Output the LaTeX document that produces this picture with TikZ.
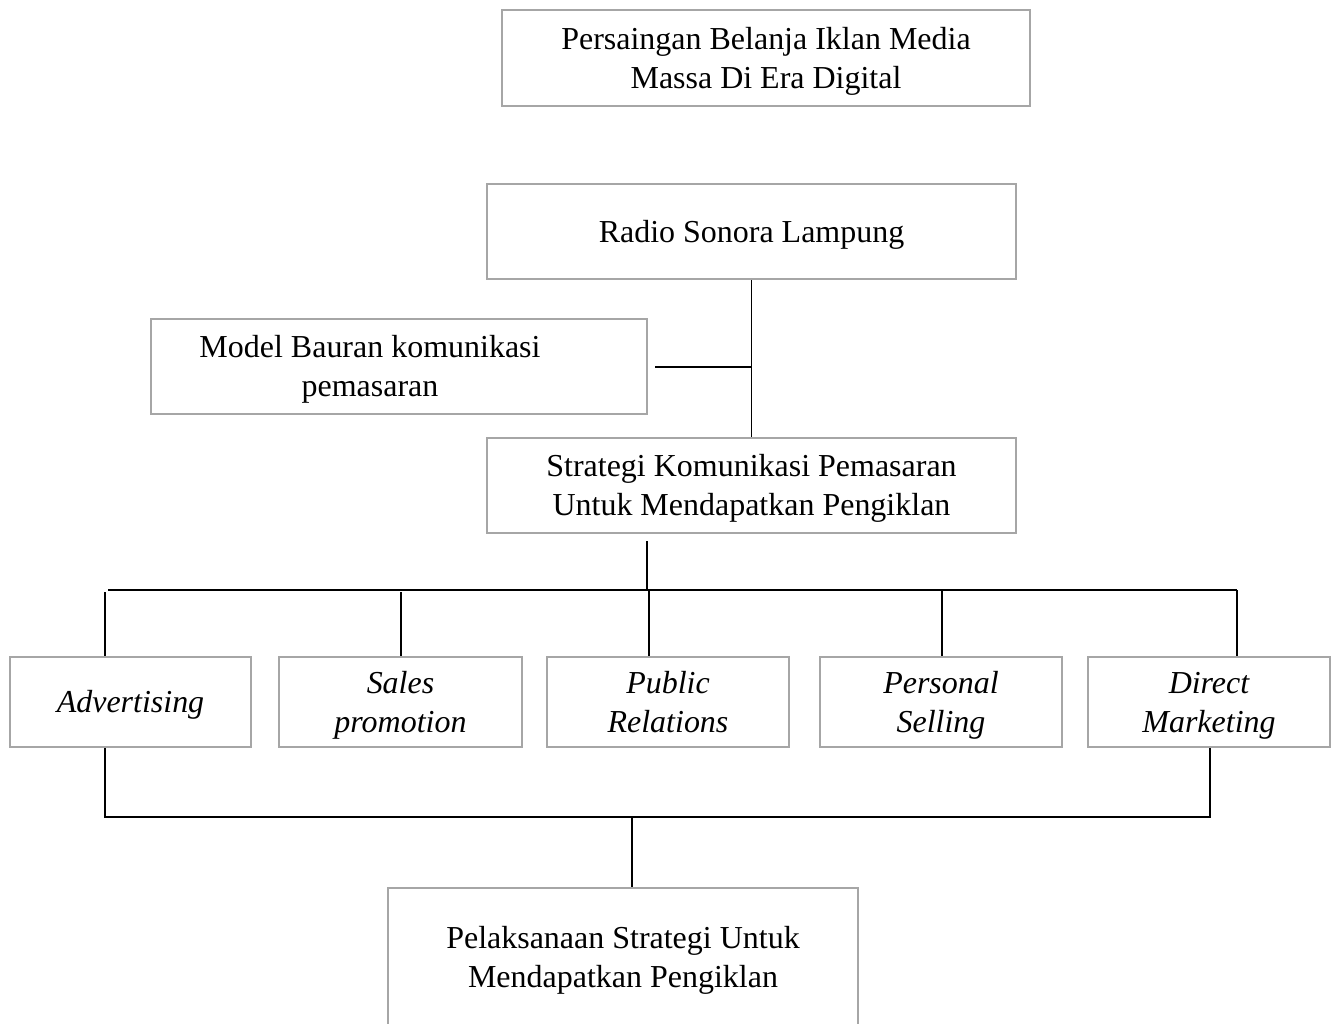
\documentclass[tikz,border=0pt]{standalone}
\usepackage{fontspec}
\setmainfont{Liberation Serif}
\newcommand\boxtop{\rule{0pt}{17pt}}
\newcommand\boxbot{\rule[-5pt]{0pt}{5pt}}
\begin{document}
\begin{tikzpicture}[x=0.02cm,y=-0.02cm,
  box/.style={draw=black!35,line width=1.6pt,align=center,inner sep=0pt,
    font=\fontsize{18.2}{22.2}\selectfont},
  link/.style={draw=black,line width=0.8pt}]

  \useasboundingbox (0,0) rectangle (1335,1024);

  \node[box,minimum width=528*0.02cm,minimum height=96*0.02cm] (top) at (766,58)
    {\boxtop Persaingan Belanja Iklan Media\\Massa Di Era Digital\boxbot};
  \node[box,minimum width=529*0.02cm,minimum height=95*0.02cm] (radio) at (751.5,231.5)
    {\boxtop Radio Sonora Lampung\boxbot};
  \node[box,minimum width=496*0.02cm,minimum height=95*0.02cm] (model) at (399,366.5)
    {\hspace*{-33pt}\boxtop Model Bauran komunikasi\\\hspace*{-33pt}pemasaran\boxbot};
  \node[box,minimum width=529*0.02cm,minimum height=95*0.02cm] (strat) at (751.5,485.5)
    {\boxtop Strategi Komunikasi Pemasaran\\Untuk Mendapatkan Pengiklan\boxbot};

  \node[box,minimum width=241*0.02cm,minimum height=90*0.02cm] (adv) at (130.5,702)
    {\boxtop\itshape Advertising\boxbot};
  \node[box,minimum width=243*0.02cm,minimum height=90*0.02cm] (sp) at (400.5,702)
    {\boxtop\itshape Sales\\\itshape promotion\boxbot};
  \node[box,minimum width=242*0.02cm,minimum height=90*0.02cm] (pr) at (668,702)
    {\boxtop\itshape Public\\\itshape Relations\boxbot};
  \node[box,minimum width=242*0.02cm,minimum height=90*0.02cm] (ps) at (941,702)
    {\boxtop\itshape Personal\\\itshape Selling\boxbot};
  \node[box,minimum width=242*0.02cm,minimum height=90*0.02cm] (dm) at (1209,702)
    {\boxtop\itshape Direct\\\itshape Marketing\boxbot};

  \node[box,minimum width=470*0.02cm,minimum height=138*0.02cm] (impl) at (623,957)
    {\boxtop Pelaksanaan Strategi Untuk\\Mendapatkan Pengiklan\boxbot};

  % connector points
  \coordinate (m1) at (655,367);
  \coordinate (m2) at (751,367);
  \coordinate (s1) at (647,541);
  \coordinate (s2) at (647,590);
  \coordinate (b0) at (108,590);
  \coordinate (b1) at (105,592);
  \coordinate (b2) at (401,592);
  \coordinate (b3) at (649,590);
  \coordinate (b4) at (942,590);
  \coordinate (b5) at (1237,590);
  \coordinate (j1) at (105,817);
  \coordinate (j2) at (1210,817);
  \coordinate (j3) at (632,817);

  \draw[link] (radio.south) -- (strat.north);
  \draw[link] (m1) -- (m2);
  \draw[link] (s1) -- (s2);
  \draw[link] (b0) -- (b5);
  \foreach \b/\n in {b1/adv,b2/sp,b3/pr,b4/ps,b5/dm}
    \draw[link] (\b) -- (\b |- \n.north);
  \draw[link] (j1 |- adv.south) -- (j1) -- (j2) -- (j2 |- dm.south);
  \draw[link] (j3) -- (j3 |- impl.north);
\end{tikzpicture}
\end{document}
